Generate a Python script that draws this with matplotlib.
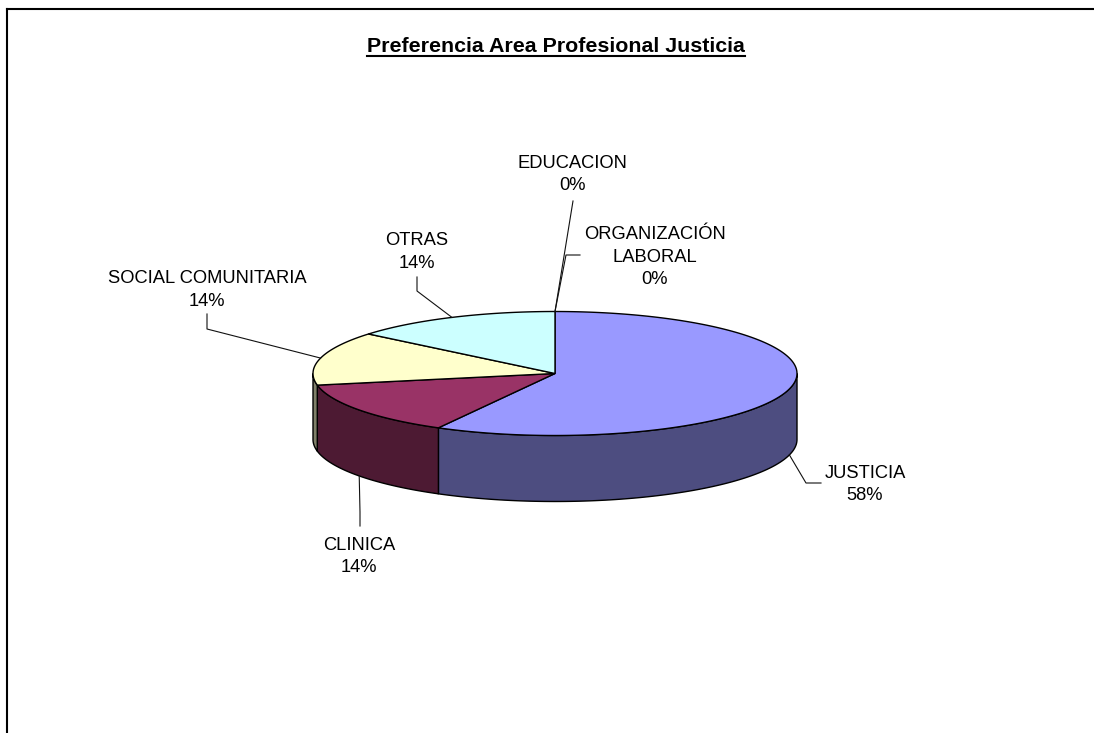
import numpy as np
import matplotlib
matplotlib.use("Agg")
import matplotlib.pyplot as plt
from matplotlib.patches import Polygon
from matplotlib.lines import Line2D

# data
labels = ["JUSTICIA", "CLINICA", "SOCIAL COMUNITARIA", "OTRAS", "EDUCACION", "ORGANIZACIÓN\nLABORAL"]
values = [58, 14, 14, 14, 0, 0]
top_colors = ["#9999FF", "#993366", "#FFFFCC", "#CCFFFF", "#FFFFFF", "#FFFFFF"]
side_colors = ["#4D4D80", "#4D1A33", "#80806A", "#668080", "#808080", "#808080"]
title = "Preferencia Area Profesional Justicia"

W, H = 1094, 733
fig = plt.figure(figsize=(W / 100, H / 100), dpi=100)
ax = fig.add_axes([0, 0, 1, 1])
ax.set_xlim(0, W)
ax.set_ylim(H, 0)
ax.axis("off")

# pie geometry (pixels)
cx, cy, a, b, depth = 555, 373.5, 242, 62, 66


def pt(th, dz=0.0):
    t = np.radians(th)
    return cx + a * np.sin(t), cy - b * np.cos(t) + dz


total = float(sum(values))
bounds = np.concatenate([[0], np.cumsum(values) / total * 360])

# side walls (front half only: 90..270 deg clockwise from top)
for i in range(len(values)):
    t0, t1 = bounds[i], bounds[i + 1]
    s0, s1 = max(t0, 90), min(t1, 270)
    if values[i] == 0 or s1 <= s0:
        continue
    th = np.linspace(s0, s1, 100)
    xs, ys = pt(th)
    poly = list(zip(xs, ys)) + list(zip(xs[::-1], ys[::-1] + depth))
    ax.add_patch(Polygon(poly, closed=True, facecolor=side_colors[i],
                         edgecolor="black", lw=1.0, zorder=2))

# top faces
for i in range(len(values)):
    if values[i] == 0:
        continue
    th = np.linspace(bounds[i], bounds[i + 1], 200)
    xs, ys = pt(th)
    poly = [(cx, cy)] + list(zip(xs, ys))
    ax.add_patch(Polygon(poly, closed=True, facecolor=top_colors[i],
                         edgecolor="black", lw=1.0, zorder=3))

# labels: elbow points and text placement (layout)
label_layout = [
    ([(806, 483), (821, 483)], 865, 478),
    ([(360, 512), (360, 526)], 359, 550),
    ([(207, 329), (207, 314)], 207, 283),
    ([(417, 291), (417, 277)], 417, 245),
    ([(573, 201)], 572, 168),
    ([(566, 255), (580, 255)], 655, 239),
]
font = dict(family=["Liberation Sans", "DejaVu Sans"], fontsize=13.2, color="black")
line_gap = 22.5

for i, (elbows, tx, ty) in enumerate(label_layout):
    mid = (bounds[i] + bounds[i + 1]) / 2
    sx, sy = pt(mid)
    if 90 < mid < 270:
        sy += depth
    path = [(sx, sy)] + elbows
    ax.add_line(Line2D([p[0] for p in path], [p[1] for p in path],
                       color="#111111", lw=0.8, zorder=4))
    lines = labels[i].split("\n") + ["%d%%" % round(values[i] / total * 100)]
    for k, txt in enumerate(lines):
        ax.text(tx, ty + k * line_gap, txt, ha="center", va="baseline", zorder=5, **font)

# title with underline
t = ax.text(556, 51.5, title, ha="center", va="baseline", fontweight="bold",
            family=["Liberation Sans", "DejaVu Sans"], fontsize=15.4, zorder=5)
fig.canvas.draw()
bb = t.get_window_extent()
x0, x1 = bb.x0, bb.x1
ax.add_line(Line2D([x0, x1], [56, 56], color="black", lw=1.5))

# chart area frame (top and left edges only)
ax.add_line(Line2D([7, W], [9, 9], color="black", lw=1.5))
ax.add_line(Line2D([7, 7], [9, H], color="black", lw=1.5))

fig.savefig("out.png", dpi=100)
